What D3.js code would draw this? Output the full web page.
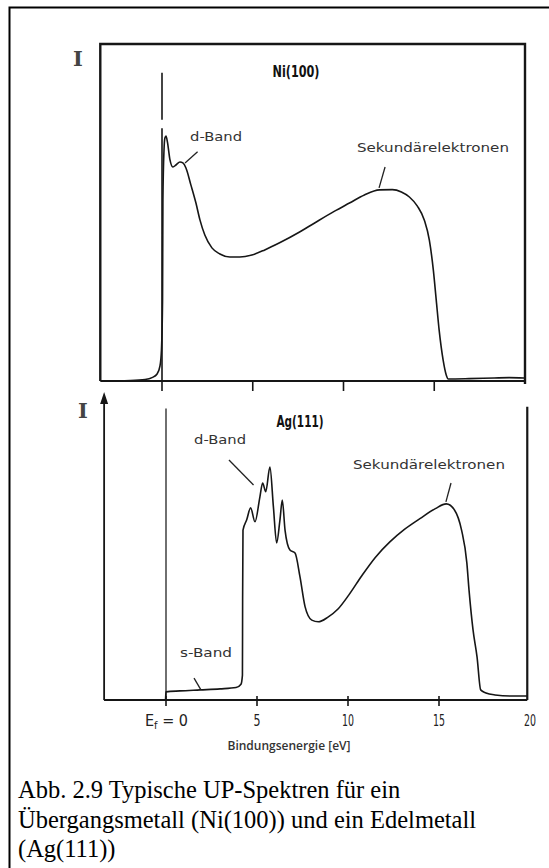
<!DOCTYPE html>
<html><head><meta charset="utf-8">
<script src="https://cdn.jsdelivr.net/npm/d3@7"></script>
<style>body{margin:0;background:#fff}svg{display:block}</style>
</head><body>
<svg id="c" width="549" height="868"></svg>
<script>
// ---- data (binding energy in eV, intensity in arbitrary units) ----
const niEnergy = [-3.35,-1.76,-0.93,-0.55,-0.27,-0.11,-0.03,0.03,0.05,0.11,0.16,0.22,0.30,0.44,0.60,0.77,0.99,1.15,1.32,1.59,1.87,2.09,2.36,2.75,3.19,3.74,4.29,4.95,5.66,6.48,7.58,8.41,9.51,10.33,11.15,11.98,12.69,13.19,13.63,14.07,14.45,14.73,14.95,15.11,15.27,15.49,15.66,15.77,16.92,18.30,19.12,19.95];
const niIntensity = [0,0.15,0.45,1.0,2.1,4.5,9.2,24,53.7,68.5,72.1,72.7,70.9,65.6,63.5,64.1,65,64.7,63.2,58.2,52.8,47.8,43.3,39.5,37.7,36.8,36.8,37.4,38.9,41,44.2,46.9,50.4,52.8,55.2,56.7,56.8,56.1,54.6,51.9,47.8,41.8,32.9,24,15.1,6.2,1.8,0.6,0.7,0.9,1.0,0.9];

const agEnergy = [-3.41,-0.03,0.0,0.77,1.87,2.97,3.85,4.12,4.20,4.21,4.23,4.43,4.65,4.89,5.16,5.31,5.48,5.71,5.90,6.08,6.26,6.39,6.54,6.81,7.09,7.36,7.64,8.01,8.37,8.90,9.45,10.05,10.75,11.50,12.30,13.10,13.95,14.80,15.40,15.85,16.24,16.53,16.65,16.87,17.09,17.29,17.58,18.08,18.90,19.84];
const agIntensity = [0,0,2.4,2.7,3.0,3.3,3.7,4.7,7.4,29.7,50.4,53.4,57,52.9,60.3,64.4,61.8,69.1,57.4,46.6,53.4,59.3,50.4,44.5,43.6,36.6,27.7,23.7,23.2,24.6,27.0,31.2,36.8,42.3,46.9,50.6,53.8,56.8,58.2,56.4,50.4,40.7,32.6,20.8,12.8,3.0,2.1,1.5,1.2,1.2];

const tickValues = [0,5,10,15,20];
const tickLabels = ["E","5","10","15","20"];
const panelTitles = ["Ni(100)","Ag(111)"];
const xTitle = "Bindungsenergie [eV]";
const caption = ["Abb. 2.9 Typische UP-Spektren für ein","Übergangsmetall (Ni(100)) und ein Edelmetall","(Ag(111))"];

// annotations: [label, textE, textI, lineE1, lineI1, lineE2, lineI2]
const niNotes = [["d-Band",2.98,71.2,1.96,68,1.27,64.7],["Sekundärelektronen",14.93,68,12.29,63.5,11.96,57.3]];
const agNotes = [["d-Band",2.97,76,3.46,71.2,4.81,63.8],["Sekundärelektronen",14.45,68.5,15.66,64.4,15.38,58.8],["s-Band",2.2,12.8,1.54,6.5,1.92,3.0]];

const svg = d3.select("#c");
const ink = "#161616";

// outer frame
svg.append("path").attr("d","M9.5,868 V7.5 H549").attr("fill","none").attr("stroke","#000").attr("stroke-width",2);

const topX = d3.scaleLinear().domain([0,20]).range([162,525]);
const topY = d3.scaleLinear().domain([0,100]).range([381,44]);
const botX = d3.scaleLinear().domain([0,20]).range([166,530]);
const botY = d3.scaleLinear().domain([0,100]).range([700,363]);
const xMin = -3.4;

function curve(x,y,E,I){
  const pts = E.map((e,i)=>[e,I[i]]);
  return d3.line().x(d=>x(d[0])).y(d=>y(d[1])).curve(d3.curveMonotoneX)(pts);
}

// ---------- TOP PANEL ----------
const g1 = svg.append("g");
g1.append("path").attr("d",`M${topX(xMin)},${topY(0)} V${topY(100)} H${topX(20)} V${topY(0)+3}`)
  .attr("fill","none").attr("stroke",ink).attr("stroke-width",2.4);
g1.append("line").attr("x1",topX(xMin)).attr("x2",topX(20)).attr("y1",topY(0)).attr("y2",topY(0))
  .attr("stroke",ink).attr("stroke-width",2);
g1.selectAll(".tk").data(tickValues.slice(0,4)).join("line")
  .attr("x1",d=>topX(d)).attr("x2",d=>topX(d)).attr("y1",topY(0)).attr("y2",topY(0)+10)
  .attr("stroke",ink).attr("stroke-width",1.6);
// Fermi marker line (broken)
g1.append("line").attr("x1",topX(0)).attr("x2",topX(0)).attr("y1",topY(91.5)).attr("y2",topY(77.5))
  .attr("stroke",ink).attr("stroke-width",1.6);
g1.append("line").attr("x1",topX(0)).attr("x2",topX(0)).attr("y1",topY(75)).attr("y2",topY(0))
  .attr("stroke",ink).attr("stroke-width",1.6);
g1.append("path").attr("d",curve(topX,topY,niEnergy,niIntensity)).attr("fill","none")
  .attr("stroke",ink).attr("stroke-width",1.6).attr("stroke-linejoin","round");

// ---------- BOTTOM PANEL ----------
const g2 = svg.append("g");
g2.append("line").attr("x1",botX(xMin)).attr("x2",botX(19.85)).attr("y1",botY(0)).attr("y2",botY(0))
  .attr("stroke",ink).attr("stroke-width",2);
g2.append("line").attr("x1",botX(xMin)).attr("x2",botX(xMin)).attr("y1",botY(0)).attr("y2",botY(100)+38)
  .attr("stroke",ink).attr("stroke-width",1.8);
const ax = botX(xMin), at = botY(100)+29;
g2.append("path").attr("d",`M${ax},${at} L${ax-4},${at+12} L${ax+4},${at+12} Z`).attr("fill",ink);
g2.append("line").attr("x1",botX(19.85)).attr("x2",botX(19.85)).attr("y1",botY(0)).attr("y2",botY(87))
  .attr("stroke",ink).attr("stroke-width",2.2);
g2.append("line").attr("x1",botX(0)).attr("x2",botX(0)).attr("y1",botY(0)).attr("y2",botY(86.5))
  .attr("stroke","#333").attr("stroke-width",1.4);
g2.selectAll(".tk").data(tickValues.slice(0,4)).join("line")
  .attr("x1",d=>botX(d)).attr("x2",d=>botX(d)).attr("y1",botY(0)-4).attr("y2",botY(0)+6)
  .attr("stroke",ink).attr("stroke-width",1.6);
g2.append("path").attr("d",curve(botX,botY,agEnergy,agIntensity)).attr("fill","none")
  .attr("stroke",ink).attr("stroke-width",1.6).attr("stroke-linejoin","round");

// tick labels
const tl = svg.append("g").attr("font-family","'DejaVu Sans Condensed','Liberation Sans Narrow','DejaVu Sans',sans-serif")
  .attr("font-size",16).attr("fill","#222");
tickValues.forEach((v,i)=>{
  if(i===0){
    const t = tl.append("text").attr("x",botX(0)-21).attr("y",726);
    t.append("tspan").text("E");
    t.append("tspan").attr("font-size",11).attr("dy",3).text("f");
    t.append("tspan").attr("dy",-3).text(" = 0");
  } else {
    tl.append("text").attr("x",botX(v)).attr("y",726).attr("text-anchor","middle")
      .attr("textLength",v<10?7:12).attr("lengthAdjust","spacingAndGlyphs").text(tickLabels[i]);
  }
});

// "I" axis symbols
const sym = svg.append("g").attr("font-family","'DejaVu Serif',serif").attr("font-size",21).attr("font-weight","bold").attr("fill","#444").attr("text-anchor","middle");
sym.append("text").attr("x",78).attr("y",66).text("I");
sym.append("text").attr("x",83).attr("y",418).text("I");

// titles
const tt = svg.append("g").attr("font-family","'DejaVu Sans Condensed','Liberation Sans Narrow','DejaVu Sans',sans-serif")
  .attr("font-size",15).attr("font-weight","bold").attr("fill","#111").attr("text-anchor","middle");
tt.append("text").attr("x",296).attr("y",77).attr("textLength",47).attr("lengthAdjust","spacingAndGlyphs").text(panelTitles[0]);
tt.append("text").attr("x",300).attr("y",427).attr("textLength",47).attr("lengthAdjust","spacingAndGlyphs").text(panelTitles[1]);

// annotations
function notes(g,x,y,arr){
  arr.forEach(n=>{
    g.append("text").attr("x",x(n[1])).attr("y",y(n[2])).attr("text-anchor","middle")
      .attr("font-family","'DejaVu Sans',sans-serif").attr("font-size",13).attr("fill","#333")
      .attr("textLength",n[0].length>10?152:52).attr("lengthAdjust","spacingAndGlyphs").text(n[0]);
    g.append("line").attr("x1",x(n[3])).attr("y1",y(n[4])).attr("x2",x(n[5])).attr("y2",y(n[6]))
      .attr("stroke","#222").attr("stroke-width",1.3);
  });
}
notes(g1,topX,topY,niNotes);
notes(g2,botX,botY,agNotes);

// x title
svg.append("text").attr("x",289).attr("y",750).attr("text-anchor","middle")
  .attr("font-family","'Open Sans',sans-serif").attr("font-size",12).attr("font-weight",600).attr("fill","#333").text(xTitle);

// caption
const cap = svg.append("g").attr("font-family","'Liberation Serif','Times New Roman',serif").attr("font-size",24.5).attr("fill","#000");
[798,828,857].forEach((yy,i)=>cap.append("text").attr("x",18).attr("y",yy).text(caption[i]));
</script>
</body></html>
